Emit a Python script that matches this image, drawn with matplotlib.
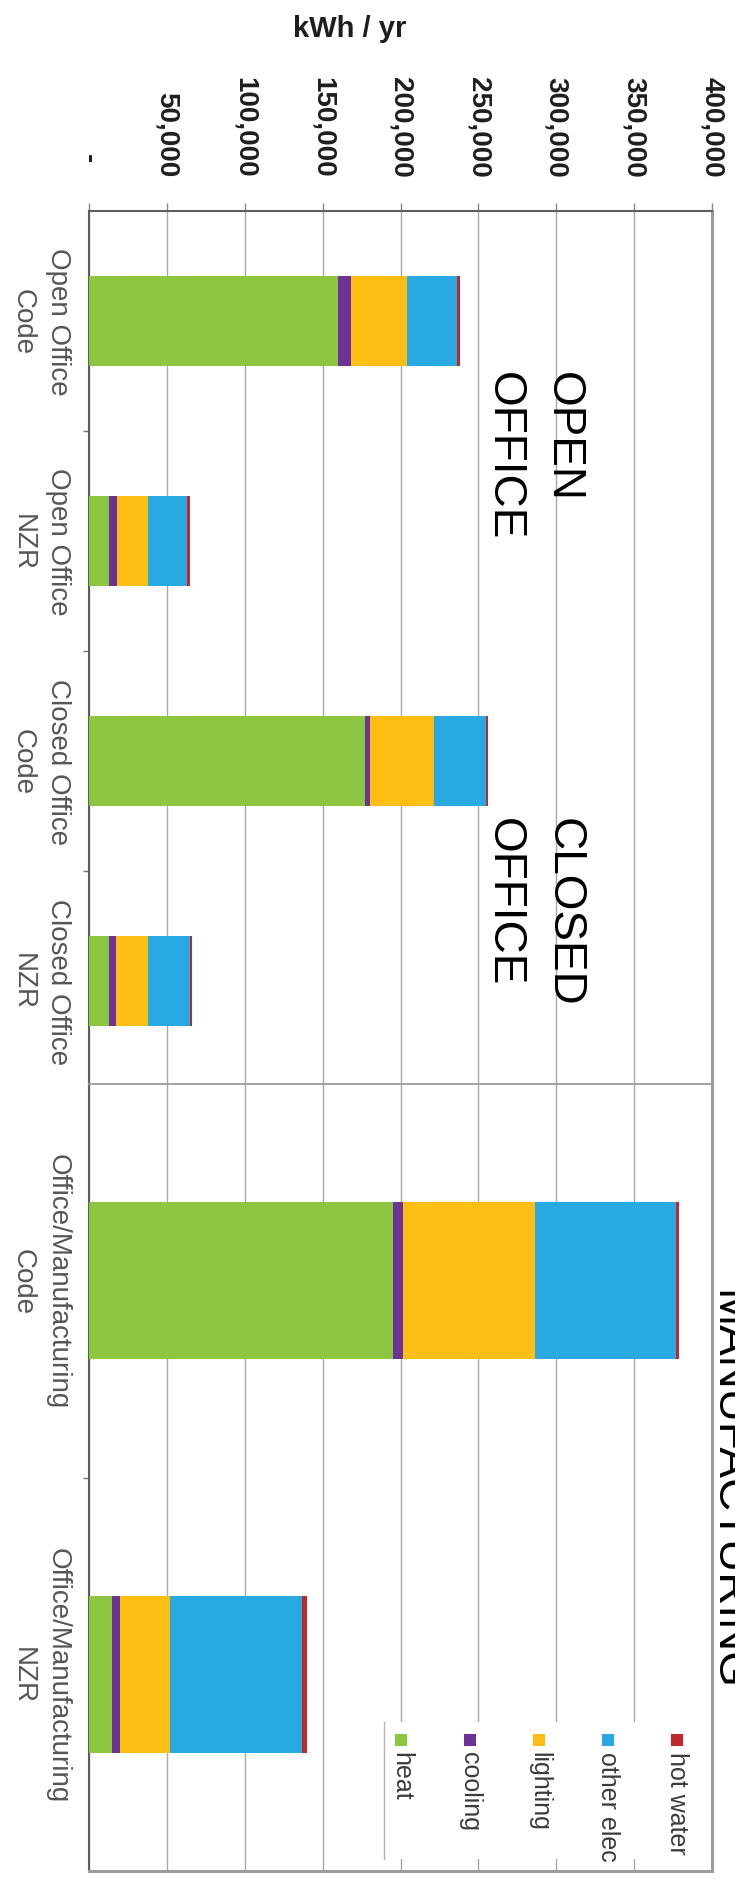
import matplotlib

matplotlib.use("Agg")
import matplotlib.pyplot as plt
import numpy as np
from matplotlib.lines import Line2D
from matplotlib.patches import Rectangle

CATEGORIES = [
    "Open Office\nCode",
    "Open Office\nNZR",
    "Closed Office\nCode",
    "Closed Office\nNZR",
    "Office/Manufacturing\nCode",
    "Office/Manufacturing\nNZR",
]
HEAT = [160000, 12800, 177500, 12900, 195300, 14500]
COOLING = [8000, 5000, 3200, 4300, 6000, 5400]
LIGHTING = [36000, 20000, 41000, 20500, 85000, 32000]
OTHER_ELEC = [32000, 25300, 33000, 27200, 90500, 85000]
HOT_WATER = [2500, 1600, 1700, 1400, 1900, 3000]

SERIES = [
    ("heat", HEAT),
    ("cooling", COOLING),
    ("lighting", LIGHTING),
    ("other elec", OTHER_ELEC),
    ("hot water", HOT_WATER),
]
COLORS = {
    "heat": "#8DC641",
    "cooling": "#6A3395",
    "lighting": "#FDBE14",
    "other elec": "#28A9E1",
    "hot water": "#C1272D",
}
VALUE_TICKS = list(range(0, 400001, 50000))
AXIS_TITLE = "kWh / yr"

# office cases sit in the upper panel, the manufacturing cases in the lower one
OFFICE_IDX = [0, 1, 2, 3]
MANUF_IDX = [4, 5]

W, H = 735, 1883
DARK = "#5E5E5E"
FRAME = "#9C9C9C"
GRID = "#A8A8A8"

plt.rcParams.update(
    {
        "font.family": ["Liberation Sans", "DejaVu Sans"],
        "figure.dpi": 100,
        "savefig.dpi": 100,
    }
)


def fx(px: float) -> float:
    return px / W


def fy(py: float) -> float:
    return 1 - py / H


def value_label(v: float, _pos=None) -> str:
    if v == 0:
        return "-  "
    return f"{int(v):,}"


def draw_panel(ax: plt.Axes, idx: list[int], bar_height: float) -> None:
    y = np.arange(len(idx))
    left = np.zeros(len(idx))
    for name, values in SERIES:
        vals = np.array([values[i] for i in idx], dtype=float)
        ax.barh(y, vals, height=bar_height, left=left, color=COLORS[name], linewidth=0, zorder=3)
        left += vals

    ax.set_xlim(0, 400000)
    ax.set_ylim(len(idx) - 0.5, -0.5)
    ax.set_xticks(VALUE_TICKS)
    ax.set_axisbelow(True)
    ax.grid(axis="x", color=GRID, linewidth=1.0)
    ax.grid(axis="y", visible=False)

    ax.set_yticks(y)
    ax.set_yticklabels(
        [CATEGORIES[i] for i in idx],
        rotation=-90,
        va="center",
        ha="right",
        multialignment="center",
        linespacing=1.45,
        fontsize=20,
        color="#565656",
    )
    ax.set_yticks(y[:-1] + 0.5, minor=True)
    ax.tick_params(axis="y", which="major", length=0, pad=13)
    ax.tick_params(axis="y", which="minor", length=4.5, width=1.0, color="#777777")

    ax.spines["left"].set_color(DARK)
    ax.spines["left"].set_linewidth(1.5)
    ax.spines["right"].set_color(FRAME)
    ax.spines["right"].set_linewidth(2.2)


def main() -> None:
    fig = plt.figure(figsize=(W / 100, H / 100))

    ax_top = fig.add_axes([fx(89), fy(1092), fx(712) - fx(89), fy(212) - fy(1092)])
    ax_bot = fig.add_axes([fx(89), fy(1872), fx(712) - fx(89), fy(1085) - fy(1872)])

    draw_panel(ax_top, OFFICE_IDX, 0.405)
    draw_panel(ax_bot, MANUF_IDX, 0.40)

    # value axis sits along the top edge
    ax_top.xaxis.tick_top()
    ax_top.set_xticklabels([value_label(v) for v in VALUE_TICKS], rotation=-90, fontsize=20,
                           fontweight="bold", color="#1E1E1E")
    ax_top.tick_params(axis="x", which="major", length=5.8, width=1.0, color="#8A8A8A", pad=19)
    ax_top.spines["top"].set_color(DARK)
    ax_top.spines["top"].set_linewidth(1.5)
    ax_top.spines["bottom"].set_visible(False)

    ax_bot.tick_params(axis="x", which="both", top=False, bottom=False, labeltop=False, labelbottom=False)
    ax_bot.spines["top"].set_color(FRAME)
    ax_bot.spines["top"].set_linewidth(1.3)
    ax_bot.spines["bottom"].set_color(FRAME)
    ax_bot.spines["bottom"].set_linewidth(2.2)

    fig.text(fx(350), fy(29), AXIS_TITLE, ha="center", va="center", fontsize=21, fontweight="bold",
             color="#1E1E1E")

    # group annotations
    big = dict(rotation=-90, rotation_mode="anchor", ha="left", va="baseline", fontsize=33, color="black")
    fig.text(fx(551), fy(372), "OPEN", **big)
    fig.text(fx(492), fy(372), "OFFICE", **big)
    fig.text(fx(552), fy(818), "CLOSED", **big)
    fig.text(fx(492), fy(818), "OFFICE", **big)
    fig.text(fx(715), fy(1290), "MANUFACTURING", **big)

    # legend, laid out along the lower right corner of the plot area
    fig.add_artist(Rectangle((fx(384), fy(1860)), fx(703) - fx(384), fy(1723) - fy(1860),
                             transform=fig.transFigure, facecolor="white", edgecolor="none", zorder=3))
    fig.add_artist(Line2D([fx(384), fx(384)], [fy(1723), fy(1860)], transform=fig.transFigure,
                          color="#B5B5B5", linewidth=1.0, zorder=4))
    for k, (name, _) in enumerate(SERIES):
        cx = 401 + 69 * k
        fig.add_artist(Rectangle((fx(cx - 6), fy(1747)), fx(12), fy(1735) - fy(1747),
                                 transform=fig.transFigure, facecolor=COLORS[name], edgecolor="none",
                                 zorder=4))
        fig.text(fx(cx), fy(1752), name, rotation=-90, rotation_mode="anchor", ha="left", va="center",
                 fontsize=18, color="#3A3A3A", zorder=5)

    fig.savefig("out.png", dpi=100, facecolor="white")


if __name__ == "__main__":
    main()
